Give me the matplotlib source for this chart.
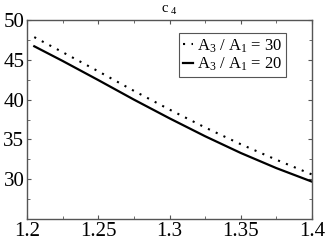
import numpy as np
import matplotlib.pyplot as plt
from matplotlib.ticker import MultipleLocator

plt.rcParams['font.family'] = ['Liberation Serif', 'DejaVu Serif']
plt.rcParams['mathtext.fontset'] = 'custom'
plt.rcParams['mathtext.rm'] = 'Liberation Serif'
plt.rcParams['mathtext.it'] = 'Liberation Serif'

# 데이터
x = [1.205, 1.225, 1.25, 1.275, 1.3, 1.325, 1.35, 1.375, 1.4]
ratio30 = [47.85, 45.95, 43.55, 41.1, 38.75, 36.5, 34.4, 32.45, 30.6]
ratio20 = [46.7, 44.85, 42.45, 40.0, 37.65, 35.4, 33.3, 31.4, 29.7]
xticks = [1.2, 1.25, 1.3, 1.35, 1.4]
xticklabels = ['1.2', '1.25', '1.3', '1.35', '1.4']
yticks = [30, 35, 40, 45, 50]

fig = plt.figure(figsize=(3.27, 2.41), dpi=100)
ax = fig.add_axes([0.083, 0.091, 0.871, 0.826])

ax.plot(x, ratio30, color='black', lw=1.5, linestyle=(0, (1, 3.1)),
        label=r'A$_3$ / A$_1$ = 30')
ax.plot(x, ratio20, color='black', lw=1.6, label=r'A$_3$ / A$_1$ = 20')

ax.set_xlim(1.2, 1.4)
ax.set_ylim(25, 50)
ax.set_xticks(xticks)
ax.set_xticklabels(xticklabels)
ax.set_yticks(yticks)
ax.xaxis.set_minor_locator(MultipleLocator(0.025))
ax.yaxis.set_minor_locator(MultipleLocator(2.5))

ax.tick_params(which='both', direction='in', top=True, right=True,
               color='#555555', labelsize=15)
ax.tick_params(axis='x', pad=2)
ax.tick_params(axis='y', pad=2)
ax.tick_params(which='major', length=3)
ax.tick_params(which='minor', length=2)
for s in ax.spines.values():
    s.set_color('#555555')
    s.set_linewidth(1.0)

ax.set_title(r'c$_{\ 4}$', fontsize=10.5, pad=5)

leg = ax.legend(loc='upper right', bbox_to_anchor=(0.909, 0.935), fontsize=12,
                handlelength=0.6, handletextpad=0.2, borderpad=0.25,
                labelspacing=0.05, fancybox=False, framealpha=1,
                borderaxespad=0)
leg.get_frame().set_edgecolor('#555555')
leg.get_frame().set_linewidth(0.8)

fig.savefig('out.png', dpi=100)
